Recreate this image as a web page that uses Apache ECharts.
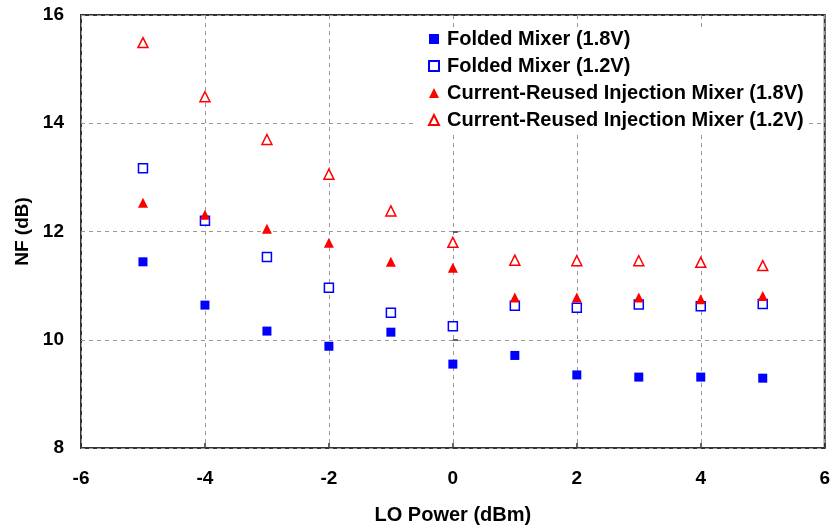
<!DOCTYPE html>
<html>
<head>
<meta charset="utf-8">
<script src="https://cdn.jsdelivr.net/npm/echarts@6/dist/echarts.min.js"></script>
<style>
  html, body { margin: 0; padding: 0; background: #fff; }
  #chart { width: 833px; height: 530px; }
</style>
</head>
<body>
<div id="chart"></div>
<script>
// LO power (dBm)
var loPower = [-5, -4, -3, -2, -1, 0, 1, 2, 3, 4, 5];
// NF (dB) per mixer
var folded18 = [11.44, 10.64, 10.16, 9.88, 10.14, 9.55, 9.71, 9.35, 9.31, 9.31, 9.29];
var folded12 = [13.17, 12.20, 11.53, 10.96, 10.50, 10.25, 10.63, 10.59, 10.65, 10.62, 10.66];
var reused18 = [12.53, 12.31, 12.05, 11.79, 11.44, 11.33, 10.78, 10.78, 10.78, 10.75, 10.81];
var reused12 = [15.49, 14.49, 13.70, 13.06, 12.38, 11.80, 11.47, 11.46, 11.46, 11.43, 11.37];

function pairs(ys) {
    var out = [];
    for (var i = 0; i < loPower.length; i++) {
        out.push([loPower[i], ys[i]]);
    }
    return out;
}

var chart = echarts.init(document.getElementById('chart'));
var font = 'Liberation Sans, Arial, sans-serif';
var gridLine = { lineStyle: { color: '#999', type: [4, 4], width: 1 } };
var tick = { show: true, inside: true, length: 5, lineStyle: { color: '#333', width: 1.5 } };

chart.setOption({
    animation: false,
    backgroundColor: '#fff',
    textStyle: { fontFamily: font },
    grid: {
        left: 81, right: 6, top: 15, bottom: 80,
        show: true,
        borderColor: '#333',
        borderWidth: 2
    },
    legend: {
        orient: 'vertical',
        left: 413,
        top: 28,
        padding: [1, 2, 1, 15],
        backgroundColor: '#fff',
        itemWidth: 10,
        itemHeight: 10,
        itemGap: 7,
        textStyle: {
            fontSize: 20, fontWeight: 'bold', color: '#000', fontFamily: font,
            padding: [0, 0, 0, 3]
        },
        data: ['Folded Mixer (1.8V)', 'Folded Mixer (1.2V)',
               'Current-Reused Injection Mixer (1.8V)', 'Current-Reused Injection Mixer (1.2V)']
    },
    xAxis: {
        type: 'value',
        min: -6, max: 6, interval: 2,
        name: 'LO Power (dBm)',
        nameLocation: 'middle',
        nameGap: 57,
        nameTextStyle: { fontSize: 20, fontWeight: 'bold', color: '#000' },
        axisLine: { show: false },
        axisTick: tick,
        axisLabel: { fontSize: 19, fontWeight: 'bold', color: '#000', margin: 21 },
        splitLine: gridLine
    },
    yAxis: {
        type: 'value',
        min: 8, max: 16, interval: 2,
        name: 'NF (dB)',
        nameLocation: 'middle',
        nameGap: 48,
        nameTextStyle: { fontSize: 19, fontWeight: 'bold', color: '#000' },
        axisLine: { show: false },
        axisTick: tick,
        axisLabel: { fontSize: 19, fontWeight: 'bold', color: '#000', margin: 17 },
        splitLine: gridLine
    },
    series: [
        {
            name: 'Folded Mixer (1.8V)',
            type: 'scatter',
            symbol: 'rect',
            symbolSize: 9,
            itemStyle: { color: '#0000ff', opacity: 1 },
            data: pairs(folded18)
        },
        {
            name: 'Folded Mixer (1.2V)',
            type: 'scatter',
            symbol: 'rect',
            symbolSize: 9,
            itemStyle: { color: '#fff', borderColor: '#0000ff', borderWidth: 1.5, opacity: 1 },
            data: pairs(folded12)
        },
        {
            name: 'Current-Reused Injection Mixer (1.8V)',
            type: 'scatter',
            symbol: 'triangle',
            symbolSize: 10,
            itemStyle: { color: '#ff0000', opacity: 1 },
            data: pairs(reused18)
        },
        {
            name: 'Current-Reused Injection Mixer (1.2V)',
            type: 'scatter',
            symbol: 'triangle',
            symbolSize: 10,
            itemStyle: { color: '#fff', borderColor: '#ff0000', borderWidth: 1.5, opacity: 1 },
            data: pairs(reused12)
        }
    ]
});
</script>
</body>
</html>
